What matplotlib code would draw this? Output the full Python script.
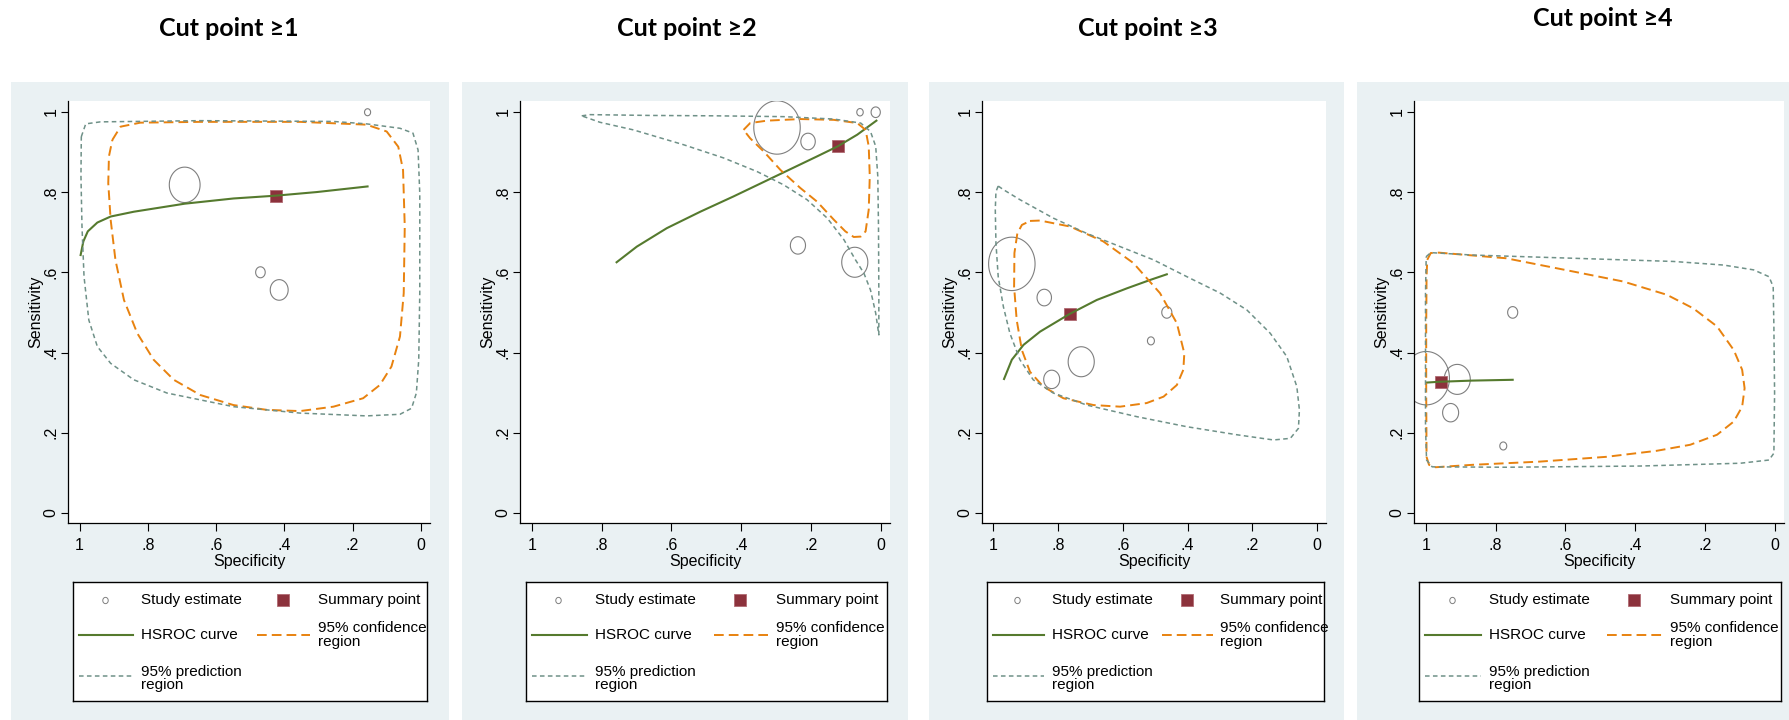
import numpy as np
import matplotlib
matplotlib.use('Agg')
import matplotlib.pyplot as plt
from matplotlib.patches import Rectangle
from matplotlib.path import Path

plt.rcParams['font.family'] = ['Liberation Sans', 'DejaVu Sans']
plt.rcParams['font.size'] = 11

titles = ['Cut point ≥1', 'Cut point ≥2', 'Cut point ≥3', 'Cut point ≥4']
tick_vals = [1, 0.8, 0.6, 0.4, 0.2, 0]
tick_labels = ['1', '.8', '.6', '.4', '.2', '0']

# study estimates (specificity, sensitivity, relative weight) per panel
study_spec = [[0.156, 0.692, 0.470, 0.415],
              [0.297, 0.208, 0.059, 0.014, 0.237, 0.074],
              [0.942, 0.842, 0.728, 0.819, 0.464, 0.513],
              [0.999, 0.910, 0.929, 0.751, 0.778]]
study_sens = [[0.999, 0.818, 0.600, 0.556],
              [0.961, 0.926, 0.999, 0.999, 0.667, 0.625],
              [0.621, 0.537, 0.377, 0.333, 0.500, 0.429],
              [0.336, 0.333, 0.250, 0.500, 0.167]]
study_wt = [[3.5, 17.7, 5.5, 10.3],
            [26.7, 8.3, 3.7, 5.3, 8.7, 15],
            [26.7, 8.3, 15, 9.2, 5.8, 4],
            [26.7, 15, 9.2, 5.8, 4]]

summary_spec = [0.425, 0.123, 0.764, 0.958]
summary_sens = [0.790, 0.914, 0.496, 0.327]

hsroc_spec = [[0.997, 0.989, 0.976, 0.948, 0.909, 0.841, 0.692, 0.549, 0.425, 0.305, 0.156],
              [0.757, 0.699, 0.613, 0.517, 0.422, 0.302, 0.182, 0.123, 0.067, 0.012],
              [0.966, 0.942, 0.906, 0.855, 0.764, 0.680, 0.587, 0.515, 0.464],
              [0.999, 0.963, 0.867, 0.751]]
hsroc_sens = [[0.643, 0.677, 0.702, 0.724, 0.739, 0.751, 0.771, 0.784, 0.791, 0.800, 0.814],
              [0.625, 0.664, 0.710, 0.751, 0.789, 0.839, 0.889, 0.914, 0.943, 0.978],
              [0.334, 0.382, 0.419, 0.452, 0.496, 0.531, 0.560, 0.581, 0.595],
              [0.325, 0.327, 0.330, 0.332]]

ci_spec = [[0.904, 0.880, 0.822, 0.646, 0.354, 0.159, 0.100, 0.066, 0.052, 0.047, 0.050, 0.061, 0.086, 0.120,
            0.169, 0.256, 0.354, 0.451, 0.549, 0.646, 0.724, 0.783, 0.831, 0.870, 0.895, 0.909, 0.916, 0.914],
           [0.393, 0.374, 0.326, 0.230, 0.134, 0.067, 0.043, 0.034, 0.031, 0.034, 0.043, 0.057, 0.077, 0.101,
            0.134, 0.182, 0.230, 0.287, 0.335, 0.374],
           [0.886, 0.855, 0.762, 0.660, 0.567, 0.485, 0.433, 0.410, 0.413, 0.433, 0.474, 0.526, 0.608, 0.690,
            0.783, 0.845, 0.886, 0.911, 0.927, 0.935, 0.934, 0.925, 0.911],
           [0.996, 0.986, 0.963, 0.770, 0.578, 0.434, 0.309, 0.233, 0.165, 0.117, 0.093, 0.086, 0.093, 0.117,
            0.165, 0.242, 0.338, 0.482, 0.674, 0.867, 0.972, 0.991, 0.998, 0.999, 0.999, 0.998]]
ci_sens = [[0.930, 0.963, 0.973, 0.975, 0.975, 0.968, 0.951, 0.913, 0.855, 0.714, 0.548, 0.440, 0.365, 0.319,
            0.286, 0.265, 0.254, 0.257, 0.269, 0.294, 0.332, 0.382, 0.448, 0.531, 0.631, 0.731, 0.822, 0.889],
           [0.955, 0.972, 0.978, 0.982, 0.980, 0.972, 0.955, 0.914, 0.839, 0.756, 0.702, 0.689, 0.688, 0.702,
            0.731, 0.776, 0.810, 0.855, 0.901, 0.934],
           [0.728, 0.729, 0.714, 0.677, 0.623, 0.548, 0.473, 0.398, 0.357, 0.319, 0.290, 0.274, 0.265, 0.269,
            0.286, 0.315, 0.352, 0.406, 0.481, 0.564, 0.648, 0.697, 0.718],
           [0.631, 0.648, 0.649, 0.635, 0.602, 0.577, 0.544, 0.510, 0.465, 0.406, 0.357, 0.311, 0.265, 0.228,
            0.195, 0.170, 0.155, 0.140, 0.128, 0.120, 0.114, 0.120, 0.140, 0.299, 0.465, 0.589]]

pi_spec = [[0.995, 0.982, 0.939, 0.646, 0.256, 0.159, 0.061, 0.023, 0.008, 0.003, 0.003, 0.006, 0.013,
            0.027, 0.061, 0.159, 0.354, 0.549, 0.744, 0.841, 0.909, 0.948, 0.973, 0.987, 0.993, 0.996],
           [0.857, 0.833, 0.661, 0.469, 0.278, 0.134, 0.057, 0.029, 0.014, 0.008, 0.006, 0.005, 0.005,
            0.014, 0.029, 0.048, 0.072, 0.105, 0.153, 0.211, 0.278, 0.354, 0.450, 0.565, 0.709, 0.805],
           [0.984, 0.991, 0.993, 0.991, 0.984, 0.968, 0.948, 0.917, 0.876, 0.814, 0.711, 0.556, 0.402, 0.248,
            0.135, 0.083, 0.058, 0.055, 0.063, 0.094, 0.145, 0.217, 0.299, 0.402, 0.505, 0.608, 0.711, 0.814,
            0.917, 0.968],
           [0.999, 0.986, 0.867, 0.578, 0.290, 0.146, 0.060, 0.016, 0.004, 0.002, 0.000, 0.002, 0.016, 0.098,
            0.386, 0.770, 0.982, 0.998, 1.001, 1.001, 1.001]]
pi_sens = [[0.938, 0.970, 0.975, 0.978, 0.976, 0.970, 0.959, 0.947, 0.905, 0.797, 0.548, 0.382, 0.299,
            0.261, 0.246, 0.242, 0.249, 0.265, 0.299, 0.332, 0.373, 0.415, 0.481, 0.589, 0.714, 0.839],
           [0.990, 0.993, 0.991, 0.990, 0.988, 0.982, 0.972, 0.951, 0.914, 0.839, 0.714, 0.548, 0.444,
            0.498, 0.556, 0.598, 0.631, 0.681, 0.735, 0.781, 0.818, 0.851, 0.885, 0.918, 0.955, 0.974],
           [0.815, 0.801, 0.756, 0.673, 0.589, 0.514, 0.448, 0.382, 0.332, 0.299, 0.269, 0.240, 0.215, 0.195,
            0.182, 0.186, 0.211, 0.257, 0.315, 0.390, 0.448, 0.506, 0.548, 0.589, 0.631, 0.664, 0.697, 0.735,
            0.781, 0.806],
           [0.639, 0.649, 0.643, 0.635, 0.627, 0.618, 0.606, 0.589, 0.564, 0.465, 0.299, 0.149, 0.132, 0.124,
            0.117, 0.114, 0.115, 0.132, 0.215, 0.382, 0.548]]

W, H = 1789, 720
BG = '#eaf1f3'
GREEN = '#557a2e'
ORANGE = '#e8820f'
PGRAY = '#6f9188'
MAROON = '#8c323c'
CIRC = '#7f7f7f'

# layout in pixels
bg_boxes = [(11, 449), (462, 908), (929, 1344), (1357, 1789)]
plot_boxes = [(68, 430), (520, 890), (982, 1326), (1414, 1784)]
leg_boxes = [(73, 427), (526, 887), (987, 1324), (1419, 1781)]
title_pos = [(229, 29), (687, 29), (1148, 29), (1603, 19)]
py0, py1 = 101, 523
ly0, ly1 = 582, 701

# slightly squeezed circle, as in the original graph
t = np.linspace(0, 2 * np.pi, 80)
ellipse = Path(np.column_stack([0.87 * np.cos(t), np.sin(t)]), closed=True)

fig = plt.figure(figsize=(W / 100, H / 100), dpi=100)
fig.patch.set_facecolor('white')


def fx(px):
    return px / W


def fy(py):
    return 1 - py / H


def closed(a):
    return list(a) + [a[0]]


for i in range(4):
    bx0, bx1 = bg_boxes[i]
    fig.patches.append(Rectangle((fx(bx0), 0), fx(bx1 - bx0), 1 - 82 / H,
                                 transform=fig.transFigure, facecolor=BG, edgecolor='none', zorder=-5))
    x0, x1 = plot_boxes[i]
    ax = fig.add_axes([fx(x0), fy(py1), fx(x1 - x0), (py1 - py0) / H])
    ax.set_facecolor('white')

    ax.scatter(study_spec[i], study_sens[i], s=(2 * 0.72 * np.array(study_wt[i])) ** 2,
               marker=ellipse, facecolors='none', edgecolors=CIRC, linewidths=0.8, zorder=2)
    ax.plot([summary_spec[i]], [summary_sens[i]], 's', ms=8.5, color=MAROON,
            mec='#b06a72', mew=0.6, zorder=3)
    ax.plot(hsroc_spec[i], hsroc_sens[i], color=GREEN, lw=1.5, zorder=4)
    ax.plot(closed(ci_spec[i]), closed(ci_sens[i]), color=ORANGE, lw=1.4,
            dashes=(5, 2.6), zorder=5)
    ax.plot(closed(pi_spec[i]), closed(pi_sens[i]), color=PGRAY, lw=1.1,
            dashes=(3, 2.2), zorder=6)

    ax.set_xlim(1.034, -0.027)
    ax.set_ylim(-0.025, 1.027)
    ax.set_xticks(tick_vals)
    ax.set_xticklabels(tick_labels)
    ax.set_yticks(tick_vals)
    ax.set_yticklabels(tick_labels)
    for lab in ax.get_yticklabels():
        lab.set_rotation(90)
        lab.set_va('center')
    ax.tick_params(axis='x', length=6, width=0.8, pad=5, labelsize=11.5)
    ax.tick_params(axis='y', length=5, width=0.8, pad=2, labelsize=11.5)
    ax.spines['top'].set_visible(False)
    ax.spines['right'].set_visible(False)
    ax.spines['left'].set_linewidth(0.9)
    ax.spines['bottom'].set_linewidth(0.9)
    ax.set_xlabel('Specificity', fontsize=11.5)
    ax.set_ylabel('Sensitivity', fontsize=11.5)
    ax.xaxis.set_label_coords(0.5, -(554 - py1) / (py1 - py0))
    ax.yaxis.set_label_coords(-(68 - 43) / (x1 - x0), 0.5)

    fig.text(fx(title_pos[i][0]), fy(title_pos[i][1]), titles[i], ha='center', va='center',
             fontsize=18, fontweight='bold', family=['Lato', 'DejaVu Sans'])

    # legend box
    lx0, lx1 = leg_boxes[i]
    lax = fig.add_axes([fx(lx0), fy(ly1), fx(lx1 - lx0), (ly1 - ly0) / H])
    lax.set_xlim(0, 1)
    lax.set_ylim(1, 0)
    lax.set_xticks([])
    lax.set_yticks([])
    for sp in lax.spines.values():
        sp.set_linewidth(1.0)
    r1, r2, r3 = 0.151, 0.445, 0.79
    lax.plot([0.09], [r1], marker=ellipse, ms=4.5, mfc='none', mec=CIRC, mew=0.7)
    lax.plot([0.593], [r1], 's', ms=8.5, color=MAROON, mec='#b06a72', mew=0.6)
    lax.plot([0.017, 0.17], [r2, r2], color=GREEN, lw=1.5)
    lax.plot([0.52, 0.67], [r2, r2], color=ORANGE, lw=1.4, dashes=(5, 2.6))
    lax.plot([0.017, 0.17], [r3, r3], color=PGRAY, lw=1.1, dashes=(3, 2.2))
    lax.text(0.192, r1, 'Study estimate', va='center', fontsize=11)
    lax.text(0.692, r1, 'Summary point', va='center', fontsize=11)
    lax.text(0.192, r2, 'HSROC curve', va='center', fontsize=11)
    lax.text(0.692, r2, '95% confidence\nregion', va='center', fontsize=11, linespacing=0.95)
    lax.text(0.192, r3 + 0.02, '95% prediction\nregion', va='center', fontsize=11, linespacing=0.95)

fig.savefig('out.png', dpi=100, facecolor='white')
